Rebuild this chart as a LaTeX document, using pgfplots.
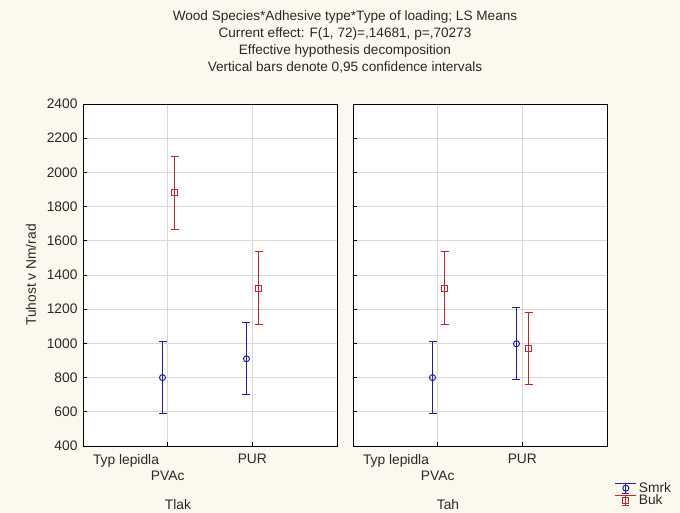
\documentclass[border=0pt]{standalone}
\usepackage{pgfplots}
\pgfplotsset{compat=1.18}
\usepackage{fontspec}
\setmainfont{Liberation Sans}
\definecolor{bgcream}{RGB}{251,249,239}
\definecolor{smrk}{RGB}{30,30,160}
\definecolor{buk}{RGB}{190,40,45}
\definecolor{txt}{RGB}{40,40,40}
\definecolor{gridc}{RGB}{215,215,215}
\newcommand\lblfont{\fontsize{13.8}{15}\selectfont}

\pgfplotsset{
  panel/.style={
    scale only axis,
    width=254pt, height=342pt,
    anchor=south west,
    xmin=0, xmax=3, ymin=400, ymax=2400,
    xtick={1,2},
    ytick={400,600,...,2400},
    grid=major,
    grid style={gridc, line width=0.6pt},
    axis background/.style={fill=white},
    axis line style={black, line width=0.8pt},
    tick align=inside,
    major tick length=4pt,
    tick style={black, line width=0.6pt},
    xtick pos=bottom, ytick pos=left,
    tick label style={font=\lblfont, text=txt},
    /pgf/number format/assume math mode=true,
    /pgf/number format/1000 sep={},
    xticklabel style={align=center, anchor=north, yshift=-3pt},
    xticklabels={{\strut\\[2pt]PVAc},{\strut PUR}},
  },
  ci/.style={
    #1, only marks, mark size=3pt, line width=1pt,
    mark options={solid, fill=white, draw=#1},
    error bars/.cd, y dir=both, y explicit,
    error bar style={line width=1pt, draw=#1},
    error mark options={rotate=90, mark size=4pt, line width=1pt, draw=#1},
  },
}

\begin{document}
\begin{tikzpicture}[x=1pt,y=1pt]
\path[use as bounding box, fill=bgcream] (0,0) rectangle (680,513);

% left panel: Tlak
\begin{axis}[panel, at={(83pt,67pt)}, yticklabel style={xshift=-2pt}]
\addplot[mark=o, ci=smrk] coordinates {
  (0.939, 800) +- (0, 212)
  (1.931, 910) +- (0, 210)
};
\addplot[mark=square, ci=buk] coordinates {
  (1.081, 1880) +- (0, 212)
  (2.073, 1323) +- (0, 212)
};
\end{axis}

% right panel: Tah
\begin{axis}[panel, at={(353pt,67pt)}, yticklabels={},
  legend style={at={(1.03,-0.10)}, anchor=north west, draw=none, fill=none,
    font=\lblfont, text=txt, row sep=-3pt, inner sep=0pt},
  legend cell align=left,
  legend image code/.code={
    \draw[#1] (0pt,5pt) -- (21pt,5pt);
    \draw[#1] (10.5pt,5pt) -- (10.5pt,-5pt);
    \draw[#1] (7pt,-5pt) -- (14pt,-5pt);
    \draw[#1] plot coordinates {(10.5pt,0pt)};
  }]
\addplot[mark=o, ci=smrk] coordinates {
  (0.939, 800) +- (0, 212)
  (1.931, 998) +- (0, 212)
};
\addlegendentry{Smrk}
\addplot[mark=square, ci=buk] coordinates {
  (1.081, 1322) +- (0, 213)
  (2.073, 970) +- (0, 212)
};
\addlegendentry{Buk}
\end{axis}

% factor labels
\node[txt, font=\lblfont] at (126,52) {Typ lepidla};
\node[txt, font=\lblfont] at (396,52) {Typ lepidla};
\node[txt, font=\lblfont] at (178,8) {Tlak};
\node[txt, font=\lblfont] at (448,8) {Tah};

% y label
\node[txt, rotate=90, font=\lblfont] at (31,238) {Tuhost v Nm/rad};

% title
\node[txt, align=center, font=\fontsize{13.6}{17}\selectfont, anchor=north] at (345,506) {%
  Wood Species*Adhesive type*Type of loading; LS Means\\
  Current effect: F(1, 72)=,14681, p=,70273\\
  Effective hypothesis decomposition\\
  Vertical bars denote 0,95 confidence intervals};
\end{tikzpicture}
\end{document}
